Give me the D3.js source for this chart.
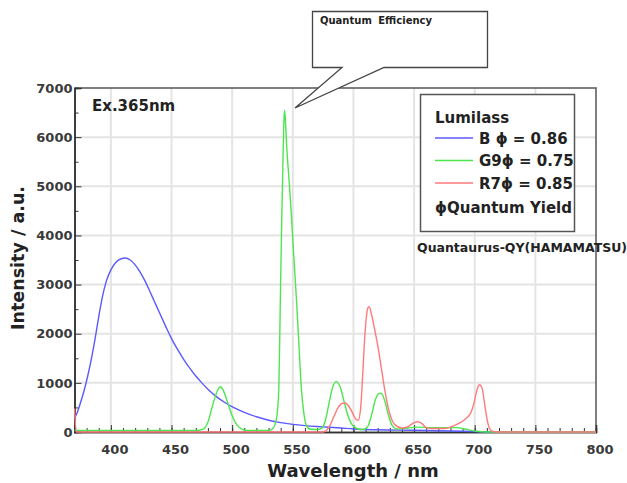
<!DOCTYPE html>
<html>
<head>
<meta charset="utf-8">
<script src="https://cdn.jsdelivr.net/npm/d3@7"></script>
<style>
  body { margin: 0; background: white; }
  text { font-family: "DejaVu Sans", sans-serif; }
</style>
</head>
<body>
<script>
var CANVAS_WIDTH = 627;
var CANVAS_HEIGHT = 483;

/* spectra: [wavelength nm, intensity a.u.] */
var blueB = [[370,280],[372,380],[375,600],[378,850],[381,1150],[384,1500],[387,1900],[390,2350],
  [393,2750],[396,3050],[400,3300],[404,3450],[408,3520],[412,3540],[416,3500],[420,3400],
  [424,3260],[428,3080],[432,2870],[436,2650],[440,2430],[445,2160],[450,1900],[455,1680],
  [460,1480],[465,1300],[470,1140],[475,1000],[480,870],[487,720],[494,600],[501,500],
  [510,400],[520,310],[530,240],[540,190],[550,155],[560,130],[575,105],[590,80],[600,62],
  [620,45],[650,35],[680,20],[700,10],[720,0],[800,0]];

var greenG9 = [[370,30],[470,30],[476,60],[480,200],[484,550],[488,850],[490,920],[492,880],
  [496,620],[500,330],[504,140],[508,60],[512,30],[530,30],[533,60],[535,130],[537,350],
  [538.5,900],[539.6,2500],[540.8,4200],[541.8,5400],[542.6,6300],[543.2,6550],[544,6300],
  [545,5800],[547,5100],[549,4350],[551,3500],[553,2700],[555,1800],[557,900],[559,400],
  [561,150],[564,60],[570,50],[574,80],[577,250],[580,600],[583,920],[586,1025],[589,920],
  [592,650],[595,370],[598,180],[601,100],[604,60],[608,50],[612,120],[615,350],[618,650],
  [621,780],[623,790],[626,620],[629,330],[632,130],[636,60],[645,80],[652,100],[665,90],
  [685,90],[692,60],[700,20],[710,0],[800,0]];

var redR7 = [[370,480],[371.5,0],[575,0],[578,40],[581,150],[584,320],[587,480],[590,570],
  [593,590],[596,530],[599,400],[602,260],[604,240],[606,500],[607.5,1100],[609,1800],
  [610.5,2300],[612,2530],[613,2550],[615,2380],[617,2150],[619,1900],[621,1620],
  [623,1300],[625,980],[627,700],[629,460],[631,290],[634,150],[640,80],
  [645,110],[650,190],[653,210],[656,180],[660,90],[665,70],[675,70],[682,120],[688,190],
  [693,280],[697,400],[700,650],[702,870],[704,960],[706,900],[708,600],[710,280],
  [712,80],[715,10],[720,0],[800,0]];

var seriesNames = ["B", "G9", "R7"];
var seriesColors = ["#5a5aff", "#4ee64e", "#ff7a7a"];
var legendLabels = ["B  \u03d5 = 0.86", "G9\u03d5 = 0.75", "R7\u03d5 = 0.85"];
var xTicks = [400, 450, 500, 550, 600, 650, 700, 750, 800];
var yTicks = [0, 1000, 2000, 3000, 4000, 5000, 6000, 7000];

var margin = {left: 74.5, right: 31, top: 88, bottom: 51};

var canvas = d3.select("body")
    .append("svg")
    .attr("width", CANVAS_WIDTH)
    .attr("height", CANVAS_HEIGHT);

var x = d3.scaleLinear().domain([370, 800]).range([margin.left, CANVAS_WIDTH - margin.right]);
var y = d3.scaleLinear().domain([0, 7000]).range([CANVAS_HEIGHT - margin.bottom, margin.top]);

// grid
canvas.append("g").selectAll("line")
    .data(xTicks.filter(d => d < 800))
    .join("line")
    .attr("x1", d => x(d)).attr("x2", d => x(d))
    .attr("y1", y(0)).attr("y2", y(7000))
    .attr("stroke", "#e4e4e4")
    .attr("stroke-width", 2);
canvas.append("g").selectAll("line")
    .data(yTicks.filter(d => d > 0 && d < 7000))
    .join("line")
    .attr("x1", x(370)).attr("x2", x(800))
    .attr("y1", d => y(d)).attr("y2", d => y(d))
    .attr("stroke", "#e4e4e4")
    .attr("stroke-width", 2);

// frame top + right
canvas.append("path")
    .attr("d", "M" + x(370) + "," + y(7000) + "H" + x(800) + "V" + y(0))
    .attr("fill", "none")
    .attr("stroke", "#555")
    .attr("stroke-width", 1.5);

// axes, ticks pointing inward
var xAxisMinor = d3.axisTop(x).tickValues(d3.range(370, 801, 10)).tickSize(4).tickFormat("");
var xAxisMajor = d3.axisTop(x).tickValues(xTicks).tickSize(7).tickFormat("");
var yAxisMinor = d3.axisRight(y).tickValues(d3.range(500, 7000, 1000)).tickSize(4).tickFormat("");
var yAxisMajor = d3.axisRight(y).tickValues(yTicks).tickSize(7).tickFormat("");

[xAxisMinor, xAxisMajor].forEach(function(ax) {
  canvas.append("g").attr("transform", "translate(0," + y(0) + ")").call(ax)
      .call(g => g.select(".domain").attr("stroke", "#333").attr("stroke-width", 1.5))
      .call(g => g.selectAll(".tick line").attr("stroke", "#333"));
});
[yAxisMinor, yAxisMajor].forEach(function(ax) {
  canvas.append("g").attr("transform", "translate(" + x(370) + ",0)").call(ax)
      .call(g => g.select(".domain").attr("stroke", "#333").attr("stroke-width", 1.5))
      .call(g => g.selectAll(".tick line").attr("stroke", "#333"));
});

// tick labels
canvas.append("g").selectAll("text")
    .data(xTicks)
    .join("text")
    .attr("x", d => x(d) + 4)
    .attr("y", y(0) + 22)
    .attr("text-anchor", "middle")
    .attr("font-size", "13px")
    .attr("font-weight", "bold")
    .attr("fill", "#3a3a3a")
    .text(d => d);
canvas.append("g").selectAll("text")
    .data(yTicks)
    .join("text")
    .attr("x", x(370) - 2)
    .attr("y", d => y(d))
    .attr("dy", ".36em")
    .attr("text-anchor", "end")
    .attr("font-size", "13px")
    .attr("font-weight", "bold")
    .attr("fill", "#3a3a3a")
    .text(d => d);

// axis titles
canvas.append("text")
    .attr("x", 353)
    .attr("y", 477)
    .attr("text-anchor", "middle")
    .attr("font-size", "18px")
    .attr("font-weight", "bold")
    .attr("fill", "#222")
    .text("Wavelength / nm");
canvas.append("text")
    .attr("transform", "translate(24,258) rotate(-90)")
    .attr("text-anchor", "middle")
    .attr("font-size", "17.5px")
    .attr("font-weight", "bold")
    .attr("fill", "#222")
    .text("Intensity / a.u.");

// spectra
var line = d3.line()
    .x(d => x(d[0]))
    .y(d => y(d[1]))
    .curve(d3.curveMonotoneX);

[blueB, greenG9, redR7].forEach(function(data, i) {
  canvas.append("path")
      .attr("id", "spec_" + seriesNames[i])
      .datum(data)
      .attr("d", line)
      .attr("fill", "none")
      .attr("stroke", seriesColors[i])
      .attr("stroke-width", 1.4);
});

canvas.append("text")
    .attr("x", 92)
    .attr("y", 111)
    .attr("font-size", "15px")
    .attr("font-weight", "bold")
    .attr("fill", "#222")
    .text("Ex.365nm");

// legend box
canvas.append("rect")
    .attr("x", 420.5)
    .attr("y", 94.5)
    .attr("width", 154)
    .attr("height", 137)
    .attr("fill", "white")
    .attr("stroke", "#555")
    .attr("stroke-width", 1.5);
canvas.append("text")
    .attr("x", 435)
    .attr("y", 123)
    .attr("font-size", "15px")
    .attr("font-weight", "bold")
    .attr("fill", "#222")
    .text("Lumilass");
legendLabels.forEach(function(lbl, i) {
  var ly = 138 + i * 22.5;
  canvas.append("line")
      .attr("x1", 435).attr("x2", 473)
      .attr("y1", ly).attr("y2", ly)
      .attr("stroke", seriesColors[i])
      .attr("stroke-width", 1.4);
  canvas.append("text")
      .attr("x", 479)
      .attr("y", ly + 5.5)
      .attr("font-size", "15px")
      .attr("font-weight", "bold")
      .attr("fill", "#222")
      .text(lbl);
});
canvas.append("text")
    .attr("x", 435)
    .attr("y", 213)
    .attr("font-size", "15px")
    .attr("font-weight", "bold")
    .attr("fill", "#222")
    .text("\u03d5Quantum Yield");

canvas.append("text")
    .attr("x", 417)
    .attr("y", 252)
    .attr("font-size", "12.5px")
    .attr("font-weight", "bold")
    .attr("fill", "#222")
    .text("Quantaurus-QY(HAMAMATSU)");

// callout
canvas.append("path")
    .attr("d", "M342,67.5 H312.5 V11.5 H487.5 V67.5 H384 L295,108 Z")
    .attr("fill", "white")
    .attr("stroke", "#444")
    .attr("stroke-width", 1.3);
canvas.append("text")
    .attr("x", 320)
    .attr("y", 24)
    .attr("font-size", "10px")
    .attr("font-weight", "bold")
    .attr("word-spacing", "3px")
    .attr("fill", "#222")
    .text("Quantum Efficiency");
</script>
</body>
</html>
